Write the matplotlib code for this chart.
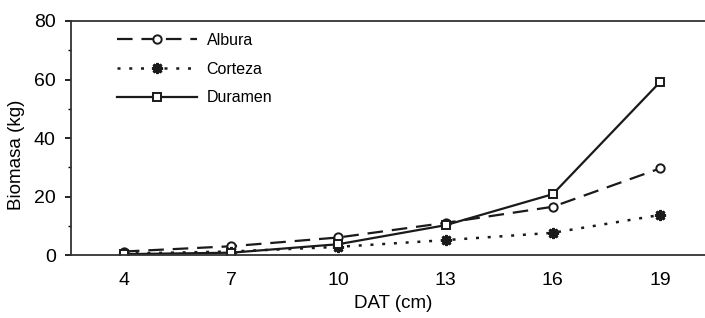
import numpy as np
import matplotlib
matplotlib.use('Agg')
import matplotlib.pyplot as plt
from matplotlib.ticker import MultipleLocator

# diameter classes (cm) and biomass per component (kg)
dat = [4, 7, 10, 13, 16, 19]
albura = [1.2, 3.0, 6.0, 11.0, 16.5, 29.6]
corteza = [0.5, 1.2, 2.8, 5.1, 7.6, 13.7]
duramen = [0.3, 0.8, 3.7, 10.2, 20.8, 59.1]

plt.rcParams['font.family'] = ['Liberation Sans', 'DejaVu Sans']

fig = plt.figure(figsize=(7.05, 3.18), dpi=100)
ax = fig.add_axes([0.1007, 0.198, 0.8993, 0.736])

ax.plot(dat, albura, color='#1a1a1a', lw=1.6, dashes=(7, 4),
        marker='o', ms=6, mfc='white', mec='#1a1a1a', mew=1.4, label='Albura')
ax.plot(dat, corteza, color='#1a1a1a', lw=1.8, dashes=(1.2, 3.5),
        marker=(8, 2, 0), ms=8, mec='#1a1a1a', mew=2.0, label='Corteza')
ax.plot(dat, duramen, color='#1a1a1a', lw=1.6, ls='-',
        marker='s', ms=6, mfc='white', mec='#1a1a1a', mew=1.4, label='Duramen')

ax.set_xlim(2.52, 20.26)
ax.set_ylim(0, 80)
ax.set_xticks(dat)
ax.set_yticks([0, 20, 40, 60, 80])
ax.yaxis.set_minor_locator(MultipleLocator(10))

ax.spines['right'].set_visible(False)
for s in ['left', 'top', 'bottom']:
    ax.spines[s].set_linewidth(1.3)
    ax.spines[s].set_color('#333333')

ax.tick_params(axis='y', which='major', length=4, width=1.2, pad=7, labelsize=14)
ax.tick_params(axis='y', which='minor', length=2, width=1.0)
ax.tick_params(axis='x', length=0, pad=12, labelsize=14)

fig.text(17 / 705, 1 - 155 / 318, 'Biomasa (kg)', rotation=90,
         ha='center', va='center', fontsize=13.5)
fig.text(393 / 705, 1 - 303 / 318, 'DAT (cm)', ha='center', va='center',
         fontsize=13.5)

ax.legend(loc='upper left', bbox_to_anchor=(0.05, 1.01), frameon=False,
          handlelength=5, handletextpad=0.6, labelspacing=0.85, fontsize=11.5)

plt.savefig('out.png', dpi=100)
